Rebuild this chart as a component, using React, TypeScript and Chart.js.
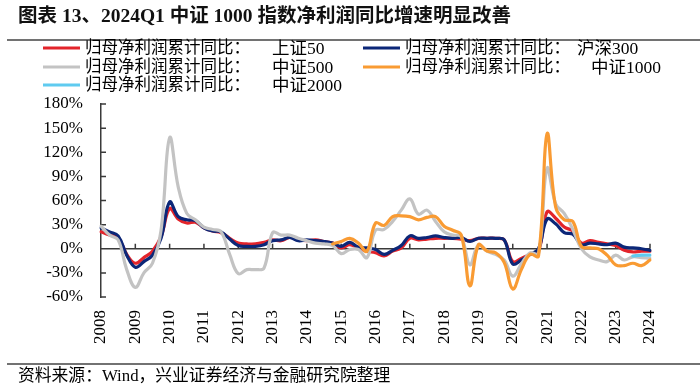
import React, { useEffect, useRef } from 'react';
import { Chart, registerables } from 'chart.js';

Chart.register(...registerables);

// ---- data ----
const years = ['2008', '2009', '2010', '2011', '2012', '2013', '2014', '2015', '2016', '2017', '2018', '2019', '2020', '2021', '2022', '2023', '2024'];
const quarterNames = ['Q1', 'Q2', 'Q3', 'Q4'];
const categories: string[] = [];
years.forEach((y, yi) => {
  quarterNames.forEach((q, qi) => {
    if (yi < years.length - 1 || qi === 0) categories.push(y + q);
  });
});

const yTickValues = [-60, -30, 0, 30, 60, 90, 120, 150, 180];

const sz50 = [21, 17, 14, -7, -18, -11, -3, 15, 50, 37, 32, 33, 26, 22, 20, 13, 7, 6, 6, 8, 11, 10, 14, 11, 10, 11, 9, 7, 1, 5, 1, -3, -5, -9, -3, 1, 13, 11, 12, 13, 13, 13, 12, 10, 13, 13, 13, 11, -16, -12, -7, -3, 46, 38, 27, 22, 7, 10, 8, 6, 4, -2, -4, -3, -3];
const hs300 = [26, 21, 16, -8, -23, -16, -8, 13, 58, 40, 36, 35, 26, 22, 21, 12, 4, 3, 3, 5, 10, 11, 14, 10, 11, 10, 9, 7, 3, 8, 2, 1, -1, -7, -2, 4, 16, 13, 14, 16, 14, 13, 14, 9, 13, 13, 13, 11, -19, -14, -7, 0, 37, 31, 20, 18, 5, 7, 6, 5, 7, 2, 1, 0, -2];
const zz500 = [28, 17, 11, -26, -48, -30, -18, 23, 138, 77, 44, 36, 27, 24, 21, -7, -31, -26, -26, -24, 20, 17, 17, 13, 10, 7, 6, 4, -6, -1, -1, -11, 23, 24, 34, 48, 62, 43, 48, 34, 21, 17, 15, -20, 5, -3, -7, -14, -34, -19, -5, -6, 100, 56, 44, 24, 0, -10, -14, -16, -8, -14, -10, -11, -12];
const zz1000: (number | null)[] = [...Array(27).fill(null), 6, 9, 13, 7, -3, 32, 29, 40, 41, 40, 36, 39, 40, 28, 23, 17, -46, 5, -3, -5, -17, -50, -26, -7, -9, 143, 52, 36, 34, 3, 1, 0, -8, -20, -21, -18, -21, -14];
const zz2000: (number | null)[] = [...Array(62).fill(null), -9, -8, -8];

const labelPrefix = '归母净利润累计同比：';
const seriesNames = ['上证50', '沪深300', '中证500', '中证1000', '中证2000'];
const seriesColors = ['#e3242b', '#0c2778', '#c3c3c3', '#f99b33', '#5fcbf0'];

const titleText = '图表 13、2024Q1 中证 1000 指数净利润同比增速明显改善';
const sourceText = '资料来源：Wind，兴业证券经济与金融研究院整理';

const FONT_FAMILY = "'Liberation Serif', 'Noto Sans CJK SC', serif";
const AXIS_COLOR = '#3a3a3a';

const decorPlugin = {
  id: 'decor',
  beforeDatasetsDraw(chart: any) {
    const { ctx, chartArea, scales } = chart;
    const xs = scales.x;
    const ys = scales.y;
    const y0 = ys.getPixelForValue(0);
    ctx.save();
    ctx.strokeStyle = AXIS_COLOR;
    ctx.lineWidth = 1.5;
    ctx.beginPath();
    ctx.moveTo(chartArea.left, y0);
    ctx.lineTo(chartArea.right, y0);
    categories.forEach((c, i) => {
      if (i > 0 && c.endsWith('Q1')) {
        const px = xs.getPixelForValue(i);
        ctx.moveTo(px, y0);
        ctx.lineTo(px, y0 - 5);
      }
    });
    yTickValues.forEach((v) => {
      const py = ys.getPixelForValue(v);
      ctx.moveTo(chartArea.left, py);
      ctx.lineTo(chartArea.left + 5, py);
    });
    ctx.stroke();
    ctx.restore();
  },
  afterDraw(chart: any) {
    const { ctx, width } = chart;
    ctx.save();
    // title
    ctx.fillStyle = '#111';
    ctx.font = `bold 19.5px ${FONT_FAMILY}`;
    ctx.textBaseline = 'middle';
    ctx.textAlign = 'left';
    ctx.fillText(titleText, 18, 17);
    // rules
    ctx.strokeStyle = '#444';
    ctx.lineWidth = 1.5;
    ctx.beginPath();
    ctx.moveTo(7, 40);
    ctx.lineTo(width, 40);
    ctx.moveTo(7, 364);
    ctx.lineTo(width, 364);
    ctx.stroke();
    // legend
    const pos = [
      [43, 48, 272],
      [363, 48, 577],
      [43, 67, 272],
      [363, 67, 591],
      [43, 85, 272],
    ];
    chart.data.datasets.forEach((ds: any, i: number) => {
      const [lx, ly, sx] = pos[i];
      ctx.strokeStyle = ds.borderColor;
      ctx.lineWidth = 3;
      ctx.beginPath();
      ctx.moveTo(lx, ly);
      ctx.lineTo(lx + 37, ly);
      ctx.stroke();
      ctx.fillStyle = '#000';
      ctx.font = `16.5px ${FONT_FAMILY}`;
      ctx.fillText(labelPrefix, lx + 42, ly + 1);
      ctx.font = `17.5px ${FONT_FAMILY}`;
      ctx.fillText(seriesNames[i], sx, ly + 1);
    });
    // source
    ctx.font = `16.8px ${FONT_FAMILY}`;
    ctx.fillStyle = '#000';
    ctx.fillText(sourceText, 18, 377);
    ctx.restore();
  },
};

export default function App() {
  const canvasRef = useRef<HTMLCanvasElement | null>(null);

  useEffect(() => {
    if (!canvasRef.current) return;
    const seriesData = [sz50, hs300, zz500, zz1000, zz2000];
    const chart = new Chart(canvasRef.current, {
      type: 'line',
      data: {
        labels: categories,
        datasets: seriesData.map((d, i) => ({
          label: labelPrefix + seriesNames[i],
          data: d,
          borderColor: seriesColors[i],
          backgroundColor: seriesColors[i],
          borderWidth: 3.2,
          pointRadius: 0,
          pointHoverRadius: 0,
          tension: 0.4,
          fill: false,
          spanGaps: false,
          borderCapStyle: 'round',
          borderJoinStyle: 'round',
          order: 5 - i,
        })),
      },
      options: {
        responsive: false,
        animation: false,
        devicePixelRatio: 1,
        layout: { padding: { left: 31, right: 50, top: 104, bottom: 33 } },
        plugins: {
          legend: { display: false },
          tooltip: { enabled: false },
          title: { display: false },
        },
        scales: {
          x: {
            type: 'category',
            grid: { display: false, drawTicks: false },
            border: { display: false },
            ticks: {
              autoSkip: false,
              maxRotation: 90,
              minRotation: 90,
              padding: 13,
              color: '#000',
              font: { family: FONT_FAMILY, size: 17 },
              callback: function (this: any, val: any, idx: number) {
                const lab = categories[idx];
                return lab.endsWith('Q1') ? lab.slice(0, 4) : '';
              },
            },
            afterFit: (s: any) => {
              s.height = 60;
            },
          },
          y: {
            min: -60,
            max: 180,
            grid: { display: false, drawTicks: false },
            border: { display: true, color: AXIS_COLOR, width: 1.5 },
            ticks: {
              stepSize: 30,
              padding: 18,
              color: '#000',
              font: { family: FONT_FAMILY, size: 17 },
              callback: (v: any) => `${v}%`,
            },
            afterFit: (s: any) => {
              s.width = 70;
            },
          },
        },
      },
      plugins: [decorPlugin],
    });
    return () => chart.destroy();
  }, []);

  return (
    <div style={{ position: 'absolute', left: 0, top: 0, width: 700, height: 390, background: '#fff' }}>
      <canvas ref={canvasRef} width={700} height={390} style={{ display: 'block' }} />
    </div>
  );
}
